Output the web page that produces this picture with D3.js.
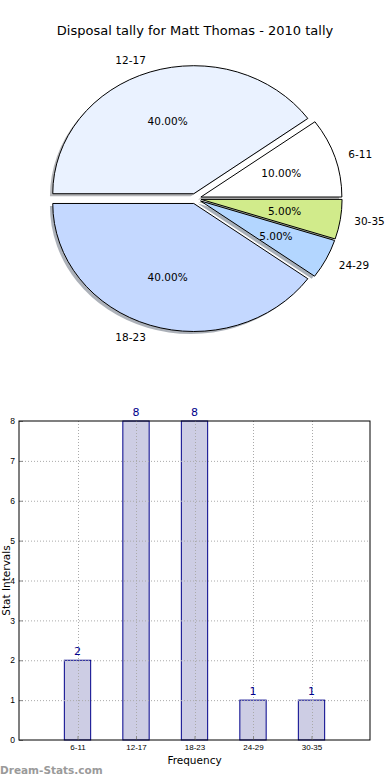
<!DOCTYPE html>
<html>
<head>
<meta charset="utf-8">
<script src="https://cdn.jsdelivr.net/npm/d3@7"></script>
<style>
  body { margin: 0; background: #fff; }
  svg { display: block; font-family: "DejaVu Sans", sans-serif; }
</style>
</head>
<body>
<div id="chart"></div>
<script>
const title = "Disposal tally for Matt Thomas - 2010 tally";
const categories = ["6-11", "12-17", "18-23", "24-29", "30-35"];
const counts = [2, 8, 8, 1, 1];
const sliceColors = ["#ffffff", "#eaf2ff", "#c4d8ff", "#b3d6ff", "#d1eb8b"];
const yTicks = [0, 1, 2, 3, 4, 5, 6, 7, 8];

const W = 390, H = 780;
const svg = d3.select("#chart").append("svg").attr("width", W).attr("height", H);

// ---- pie (elliptical, matplotlib style: starts at 3 o'clock, ccw) ----
const cx = 195.5, cy = 198.6, rx = 141, ry = 128;
const explode = 0.04;
const total = d3.sum(counts);

svg.append("text")
  .attr("x", 195).attr("y", 30)
  .attr("text-anchor", "middle")
  .attr("dominant-baseline", "central")
  .style("font-size", "13px")
  .text(title);

const pie = d3.pie().sort(null)
  .startAngle(Math.PI / 2)
  .endAngle(Math.PI / 2 - 2 * Math.PI);
const arcs = pie(counts);
const arcGen = d3.arc().innerRadius(0).outerRadius(1);

const offs = arcs.map((a) => {
  const m = (a.startAngle + a.endAngle) / 2;
  return { m, dx: explode * rx * Math.sin(m), dy: -explode * ry * Math.cos(m) };
});

const gPie = svg.append("g");
// shadows under everything
gPie.selectAll("path.shadow")
  .data(arcs)
  .join("path")
  .attr("class", "shadow")
  .attr("d", arcGen)
  .attr("transform", (d, i) =>
    `translate(${cx + offs[i].dx - 0.02 * rx},${cy + offs[i].dy + 0.02 * ry}) scale(${rx},${ry})`)
  .attr("fill", (d, i) => d3.rgb(sliceColors[i]).darker(2.2))
  .attr("fill-opacity", 0.5);

gPie.selectAll("path.wedge")
  .data(arcs)
  .join("path")
  .attr("class", "wedge")
  .attr("d", arcGen)
  .attr("transform", (d, i) =>
    `translate(${cx + offs[i].dx},${cy + offs[i].dy}) scale(${rx},${ry})`)
  .attr("fill", (d, i) => sliceColors[i])
  .attr("stroke", "#000")
  .attr("stroke-width", 1)
  .attr("vector-effect", "non-scaling-stroke");

gPie.selectAll("text.lab")
  .data(arcs)
  .join("text")
  .attr("class", "lab")
  .attr("x", (d, i) => cx + offs[i].dx + 1.1 * rx * Math.sin(offs[i].m))
  .attr("y", (d, i) => cy + offs[i].dy - 1.1 * ry * Math.cos(offs[i].m))
  .attr("text-anchor", (d, i) => Math.sin(offs[i].m) > 0 ? "start" : "end")
  .attr("dominant-baseline", "central")
  .style("font-size", "10.5px")
  .text((d, i) => categories[i]);

gPie.selectAll("text.pct")
  .data(arcs)
  .join("text")
  .attr("class", "pct")
  .attr("x", (d, i) => cx + offs[i].dx + 0.6 * rx * Math.sin(offs[i].m))
  .attr("y", (d, i) => cy + offs[i].dy - 0.6 * ry * Math.cos(offs[i].m))
  .attr("text-anchor", "middle")
  .attr("dominant-baseline", "central")
  .style("font-size", "10.5px")
  .text((d) => d3.format(".2f")(d.data / total * 100) + "%");

// ---- bar chart ----
const plotL = 19, plotR = 370, plotT = 421, plotB = 740;
const x = d3.scaleLinear().domain([0, categories.length + 1]).range([plotL, plotR]);
const y = d3.scaleLinear().domain([0, 8]).range([plotB, plotT]);
const barW = 0.45;
const gBar = svg.append("g");

gBar.selectAll("rect.bar")
  .data(counts)
  .join("rect")
  .attr("class", "bar")
  .attr("x", (d, i) => x(i + 1 - barW / 2))
  .attr("y", (d) => y(d))
  .attr("width", x(barW) - x(0))
  .attr("height", (d) => y(0) - y(d))
  .attr("fill", "#cdcde4")
  .attr("stroke", "#00008b")
  .attr("stroke-width", 1);

// dotted grid over the bars
const grid = gBar.append("g")
  .attr("stroke", "#aaaaaa")
  .attr("stroke-width", 1)
  .attr("stroke-dasharray", "1,2");
grid.selectAll("line.gy")
  .data(yTicks.slice(1, -1))
  .join("line")
  .attr("x1", plotL).attr("x2", plotR)
  .attr("y1", (d) => y(d) + 0.5).attr("y2", (d) => y(d) + 0.5);
grid.selectAll("line.gx")
  .data(categories)
  .join("line")
  .attr("x1", (d, i) => Math.round(x(i + 1)) + 0.5)
  .attr("x2", (d, i) => Math.round(x(i + 1)) + 0.5)
  .attr("y1", plotT).attr("y2", plotB);

const xAxis = d3.axisBottom(x)
  .tickValues(categories.map((d, i) => i + 1))
  .tickFormat((d) => categories[d - 1])
  .tickSize(-4).tickPadding(4);
const yAxis = d3.axisLeft(y)
  .tickValues(yTicks)
  .tickFormat(d3.format("d"))
  .tickSize(-4).tickPadding(4);

const gx = gBar.append("g")
  .attr("transform", `translate(0,${plotB})`)
  .call(xAxis);
gx.select(".domain").remove();
gx.selectAll("line").attr("stroke", "#888");
gx.selectAll("text").style("font-size", "8px").attr("fill", "#000");

const gy = gBar.append("g")
  .attr("transform", `translate(${plotL},0)`)
  .call(yAxis);
gy.select(".domain").remove();
gy.selectAll("line").attr("stroke", "#888");
gy.selectAll("text").style("font-size", "8.5px").attr("fill", "#000");

gBar.append("rect")
  .attr("x", plotL).attr("y", plotT)
  .attr("width", plotR - plotL).attr("height", plotB - plotT)
  .attr("fill", "none")
  .attr("stroke", "#000")
  .attr("stroke-width", 1);

gBar.selectAll("text.val")
  .data(counts)
  .join("text")
  .attr("class", "val")
  .attr("x", (d, i) => x(i + 1))
  .attr("y", (d) => y(d) - 9)
  .attr("text-anchor", "middle")
  .attr("dominant-baseline", "central")
  .attr("fill", "#00008b")
  .style("font-size", "11px")
  .text((d) => d);

gBar.append("text")
  .attr("x", (plotL + plotR) / 2).attr("y", 760)
  .attr("text-anchor", "middle")
  .attr("dominant-baseline", "central")
  .style("font-size", "10.5px")
  .text("Frequency");

gBar.append("text")
  .attr("transform", `translate(5.5,${(plotT + plotB) / 2}) rotate(-90)`)
  .attr("text-anchor", "middle")
  .attr("dominant-baseline", "central")
  .style("font-size", "10.5px")
  .text("Stat Intervals");

svg.append("text")
  .attr("x", 0).attr("y", 770)
  .attr("dominant-baseline", "central")
  .attr("fill", "#9a9a9a")
  .style("font-size", "10.5px")
  .style("font-weight", "bold")
  .text("Dream-Stats.com");
</script>
</body>
</html>
